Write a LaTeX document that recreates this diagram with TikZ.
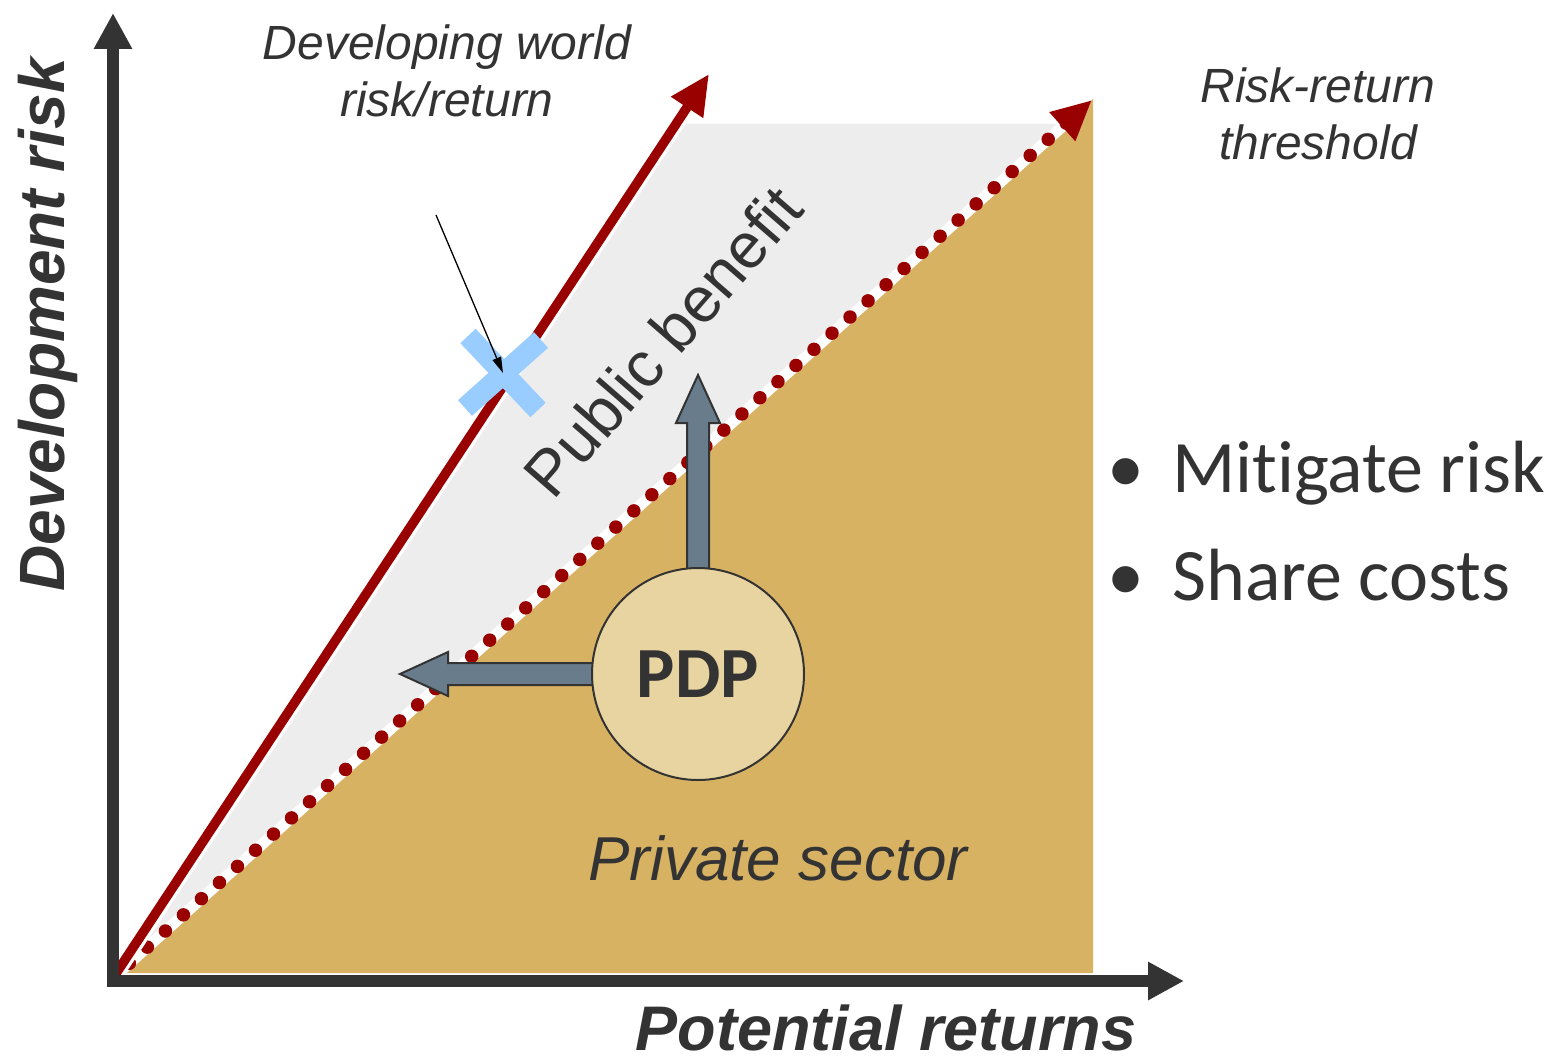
\documentclass[tikz,border=0pt]{standalone}
\usepackage{fontspec}
\setmainfont{Liberation Sans}
\newfontfamily\carlito[RawFeature={-liga;-clig;-dlig;-calt}]{Carlito}
\usetikzlibrary{arrows.meta,calc}
\definecolor{txt}{HTML}{333333}
\definecolor{dkred}{HTML}{990000}
\definecolor{tan}{HTML}{D8B263}
\definecolor{band}{HTML}{EDEDED}
\definecolor{pdpfill}{HTML}{E8D4A0}
\definecolor{slate}{HTML}{687C8C}
\definecolor{xblue}{HTML}{99CCFF}
\tikzset{
  axisline/.style={draw=txt, line width=12pt, -{Triangle[length=36pt,width=36pt]}},
  redline/.style={draw=dkred, line width=9.5pt, line cap=round, -{Triangle[length=40pt,width=36pt]}},
  blockarr/.style={fill=slate, draw=txt, line width=2pt, line join=miter},
  lbl/.style={inner sep=0pt, text=txt},
}
\begin{document}
\begin{tikzpicture}[x=1pt,y=-1pt]
\useasboundingbox[fill=white] (0,0) rectangle (1557,1059);
% key points
\coordinate (O) at (113,978);
\coordinate (dwtip) at (709,74);
\coordinate (thtip) at (1092,100);
\coordinate (pdpc) at (698,674);
% regions
\fill[band] (O) -- (682,124) -- (1070,124) -- cycle;
\fill[tan] (O) -- (1093,99) -- (1093,973) -- (113,973) -- cycle;
% threshold line
\draw[white, line width=11pt, -{Triangle[length=40pt,width=36pt,color=dkred]}] (O) -- (thtip);
\draw[dkred, line width=13.5pt, line cap=round, dash pattern=on 0pt off 24.2pt, shorten >=30pt, shorten <=22pt] (O) -- (thtip);
% developing world line
\draw[white, line width=16pt, shorten >=40pt] (O) -- (dwtip);
\draw[redline] (O) -- (dwtip);
% axes
\draw[axisline] (107,981) coordinate (xa) -- (1184,981) coordinate (xtip);
\draw[axisline] (113,987) coordinate (ya) -- (113,13) coordinate (ytip);
% blue X
\coordinate (xc) at (503,373);
\draw[xblue, line width=21pt] (xc) ++(-35,-37) -- ++(70,74);
\draw[xblue, line width=21pt] (xc) ++(38,-33) -- ++(-76,68);
% annotation arrow
\coordinate (annot) at (436,215);
\draw[black, line width=1.3pt, -{Triangle[length=16pt,width=9pt]}] (annot) -- (xc);
% block arrows from PDP
\draw[blockarr] (pdpc) ++(-11,0) -- ++(0,-251) -- ++(-11,0) -- ++(22,-48) -- ++(22,48) -- ++(-11,0) -- ++(0,251) -- cycle;
\draw[blockarr] (pdpc) ++(0,-11) -- ++(-250,0) -- ++(0,-11) -- ++(-48,22) -- ++(48,22) -- ++(0,-11) -- ++(250,0) -- cycle;
\node[circle, minimum size=212pt, inner sep=0pt, fill=pdpfill, draw=txt, line width=2pt,
      font={\carlito\bfseries\fontsize{72}{86}\selectfont}, text=txt] (pdp) at (pdpc) {PDP};
% texts
\node[lbl, rotate=49, anchor=base, font={\fontsize{64}{76}\selectfont}] (pub) at (680,356) {Public benefit};
\node[lbl, anchor=base, font={\itshape\fontsize{62}{74}\selectfont}] (priv) at (778,880) {Private sector};
\node[lbl, anchor=north, align=center, font={\itshape\fontsize{48}{57}\selectfont}] (dw) at (447,25) {Developing world\\risk/return};
\node[lbl, anchor=north, align=center, font={\itshape\fontsize{48}{57}\selectfont}] (rr) at (1318,68) {Risk-return\\threshold};
\node[lbl, anchor=base, rotate=90, font={\bfseries\itshape\fontsize{64}{76}\selectfont}] (ylab) at (64,325) {Development risk};
\node[lbl, anchor=base, font={\bfseries\itshape\fontsize{63}{75}\selectfont}] (xlab) at (886,1050) {Potential returns};
\node[lbl, anchor=base, font={\carlito\fontsize{74}{88}\selectfont}] (b1) at (1126,492) {•};
\node[lbl, anchor=base west, font={\carlito\fontsize{74}{88}\selectfont}] (t1) at (1172,492) {Mit\kern0pt igate risk};
\node[lbl, anchor=base, font={\carlito\fontsize{74}{88}\selectfont}] (b2) at (1126,600) {•};
\node[lbl, anchor=base west, font={\carlito\fontsize{74}{88}\selectfont}] (t2) at (1172,600) {Share costs};
\end{tikzpicture}
\end{document}
